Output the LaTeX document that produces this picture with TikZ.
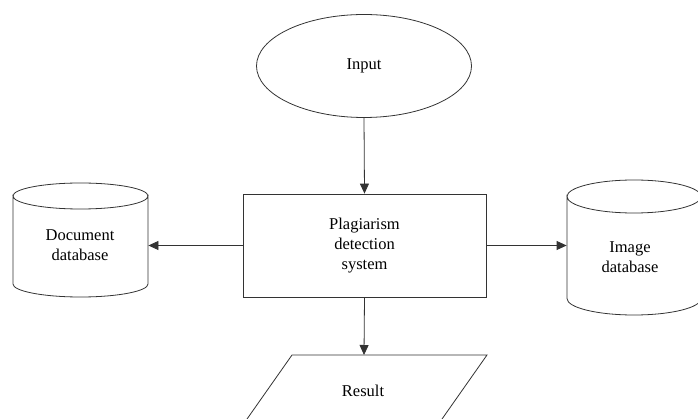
\documentclass[tikz,border=0pt]{standalone}
\usepackage{fontspec}
\setmainfont{Liberation Serif}
\usetikzlibrary{shapes.geometric,arrows.meta}
\begin{document}
\begin{tikzpicture}[x=1pt,y=-1pt,
  line width=0.8pt, draw=black!80,
  lbl/.style={align=center,font=\fontsize{16.5}{20}\selectfont,inner sep=0pt},
  conn/.style={draw=black!80,line width=0.8pt,-{Triangle[length=10pt,width=9pt]}},
  anchorbox/.style={draw=none,inner sep=0pt}]
\clip (0,0) rectangle (698,419);
% Input ellipse
\node[ellipse,draw,minimum width=215,minimum height=103,lbl] (input) at (364,66) {Input};
% Main box
\node[rectangle,draw,minimum width=243,minimum height=103,lbl] (sys) at (364.5,245.5) {Plagiarism\\detection\\system};
% Document database cylinder
\node[anchorbox,minimum width=135,minimum height=114] (doc) at (80.5,245.5) {};
\draw (13,196) -- (13,284) arc[start angle=180,end angle=360,x radius=67.5pt,y radius=13pt] -- (148,196)
      arc[start angle=0,end angle=-180,x radius=67.5pt,y radius=13pt] -- cycle;
\draw (13,196) arc[start angle=180,end angle=0,x radius=67.5pt,y radius=13pt];
\node[lbl] at (80,245) {Document\\database};
% Image database cylinder
\node[anchorbox,minimum width=134,minimum height=135] (img) at (634,245.5) {};
\draw (567,196.5) -- (567,298.5) arc[start angle=180,end angle=360,x radius=67pt,y radius=16.5pt] -- (701,196.5)
      arc[start angle=0,end angle=-180,x radius=67pt,y radius=16.5pt] -- cycle;
\draw (567,196.5) arc[start angle=180,end angle=0,x radius=67pt,y radius=16.5pt];
\node[lbl] at (630,257) {Image\\database};
% Result parallelogram
\coordinate (res) at (364,355);
\draw (292,355) -- (487,355) -- (435,429) -- (240,429) -- cycle;
\node[lbl] (resl) at (363,391) {Result};
% Connectors
\draw[conn] (input.south) -- (sys.north);
\draw[conn] (sys.west) -- (doc.east);
\draw[conn] (sys.east) -- (img.west);
\draw[conn] (sys.south) -- (res);
\end{tikzpicture}
\end{document}
